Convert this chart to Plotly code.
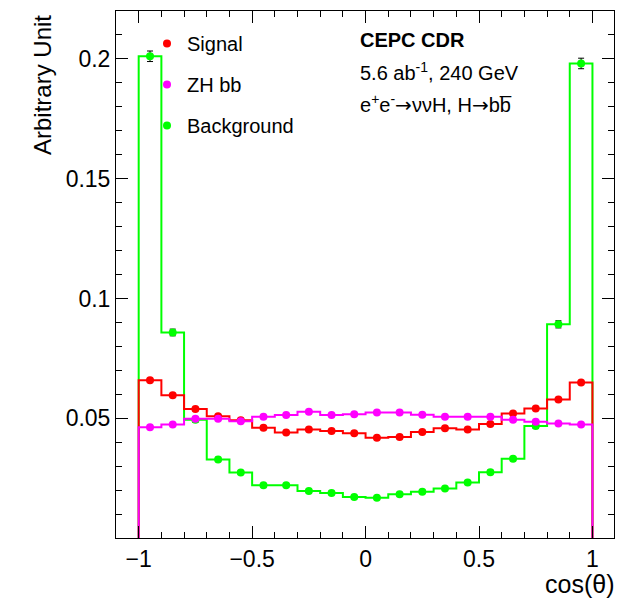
import numpy as np
import plotly.graph_objects as go

# ---- data ----
bin_edges = [round(-1 + 0.1 * i, 1) for i in range(21)]
signal = [0.0659, 0.0596, 0.0539, 0.0508, 0.0492, 0.0460, 0.0440, 0.0453, 0.0447, 0.0437,
          0.0419, 0.0422, 0.0443, 0.0458, 0.0453, 0.0476, 0.0520, 0.0541, 0.0578, 0.0649]
zhbb = [0.0462, 0.0474, 0.0498, 0.0498, 0.0487, 0.0506, 0.0513, 0.0527, 0.0513, 0.0517,
        0.0524, 0.0524, 0.0515, 0.0506, 0.0506, 0.0506, 0.0494, 0.0485, 0.0478, 0.0474]
background = [0.2011, 0.0858, 0.0494, 0.0328, 0.0273, 0.0220, 0.0220, 0.0196, 0.0188, 0.0171,
              0.0168, 0.0183, 0.0193, 0.0207, 0.0232, 0.0275, 0.0331, 0.0468, 0.0892, 0.1981]
background_err = [0.0022, 0.0014, 0.0011, 0.0009, 0.0008, 0.0007, 0.0007, 0.0007, 0.0007, 0.0006,
                  0.0006, 0.0007, 0.0007, 0.0007, 0.0007, 0.0008, 0.0009, 0.0011, 0.0015, 0.0022]
x_ticks = [-1, -0.5, 0, 0.5, 1]
x_tick_labels = ["\u22121", "\u22120.5", "0", "0.5", "1"]
y_ticks = [0.05, 0.1, 0.15, 0.2]
y_tick_labels = ["0.05", "0.1", "0.15", "0.2"]

FONT = "Liberation Sans, Arial, Helvetica, sans-serif"
W, H = 620, 599
ML, MR, MT, MB = 116, 6, 11, 61
PW, PH = W - ML - MR, H - MT - MB


def px(x):
    return (x - ML) / PW


def py(y):
    return (H - MB - y) / PH


edges = np.array(bin_edges)
centers = (edges[:-1] + edges[1:]) / 2


def step_xy(vals):
    xs = [edges[0]] + list(edges[:-1]) + [edges[-1], edges[-1]]
    ys = [0] + list(vals) + [vals[-1], 0]
    return xs, ys


fig = go.Figure()

series = [
    ("Background", background, "#00ff00", background_err, 3),
    ("Signal", signal, "#ff0000", None, 1),
    ("ZH bb", zhbb, "#ff00ff", None, 2),
]
for name, vals, col, err, rank in series:
    xs, ys = step_xy(vals)
    fig.add_trace(go.Scatter(x=xs, y=ys, mode="lines", line=dict(color=col, width=2, shape="hv"),
                             showlegend=False, hoverinfo="skip"))
    fig.add_trace(go.Scatter(
        x=centers, y=vals, mode="markers", name=name,
        marker=dict(color=col, size=8, symbol="circle"),
        error_y=dict(type="data", array=err, color="black", thickness=1, width=3) if err else None,
        legendgroup=name, legendrank=rank, showlegend=True))

fig.update_layout(
    width=W, height=H,
    margin=dict(l=ML, r=MR, t=MT, b=MB),
    paper_bgcolor="white", plot_bgcolor="white",
    font=dict(family=FONT, color="black"),
    showlegend=True,
    legend=dict(x=px(147), y=py(24), xanchor="left", yanchor="top",
                font=dict(size=20, family=FONT), bgcolor="rgba(0,0,0,0)",
                tracegroupgap=12, itemwidth=30),
    xaxis=dict(range=[-1.1, 1.095], showgrid=False, zeroline=False,
               showline=True, linecolor="black", linewidth=1, mirror="allticks",
               ticks="inside", ticklen=12, tickcolor="black", tickwidth=1,
               tickvals=x_ticks, ticktext=x_tick_labels,
               tickfont=dict(size=23, family=FONT),
               minor=dict(dtick=0.1, tick0=0, ticks="inside", ticklen=6, tickcolor="black")),
    yaxis=dict(range=[0, 0.22], showgrid=False, zeroline=False,
               showline=True, linecolor="black", linewidth=1, mirror="allticks",
               ticks="inside", ticklen=12, tickcolor="black", tickwidth=1,
               tickvals=y_ticks, ticktext=y_tick_labels,
               tickfont=dict(size=23, family=FONT),
               minor=dict(dtick=0.01, tick0=0, ticks="inside", ticklen=6, tickcolor="black")),
)

ARROW = "<span style='font-family:DejaVu Sans'>\u2192</span>"
annotations = [
    dict(text="Arbitrary Unit", x=px(42), y=py(13), xanchor="center", yanchor="top",
         textangle=-90, font=dict(size=24)),
    dict(text="cos(\u03b8)", x=px(616), y=py(584), xanchor="right", yanchor="middle",
         font=dict(size=25)),
    dict(text="<b>CEPC CDR</b>", x=px(358), y=py(40), xanchor="left", yanchor="middle",
         font=dict(size=20)),
    dict(text="5.6 ab<sup>-1</sup>, 240 GeV", x=px(358), y=py(71), xanchor="left",
         yanchor="middle", font=dict(size=20)),
    dict(text="e<sup>+</sup>e<sup>-</sup>" + ARROW + "\u03bd\u03bdH, H" + ARROW + "bb\u0305",
         x=px(358), y=py(104), xanchor="left", yanchor="middle", font=dict(size=20)),
]
for a in annotations:
    a.update(xref="paper", yref="paper", showarrow=False)
    a.setdefault("font", {})
    a["font"].setdefault("family", FONT)
    a["font"].setdefault("color", "black")
fig.update_layout(annotations=annotations)

fig.write_html("out.html")
